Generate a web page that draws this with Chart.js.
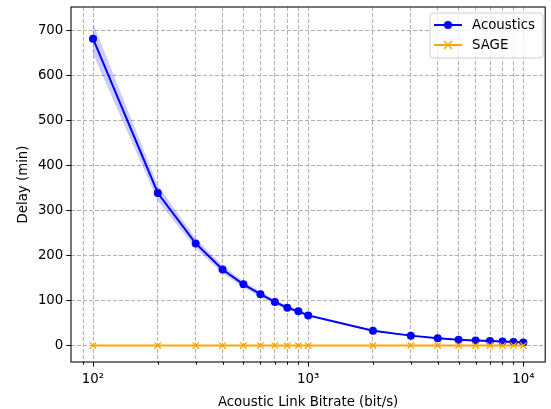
<!DOCTYPE html>
<html>
<head>
<meta charset="utf-8">
<script src="https://cdn.jsdelivr.net/npm/chart.js@4/dist/chart.umd.min.js"></script>
<style>
html,body{margin:0;padding:0;background:#fff;}
#wrap{width:551px;height:409px;}
</style>
</head>
<body>
<div id="wrap"><canvas id="c" width="551" height="409"></canvas></div>
<script>
const bitrates = [100, 200, 300, 400, 500, 600, 700, 800, 900, 1000, 2000, 3000, 4000, 5000, 6000, 7000, 8000, 9000, 10000];
const acoustics = [683, 340, 228, 170, 137, 115, 98, 85, 77, 68, 34, 23, 17, 14, 12, 11, 10, 9, 8];
const acousticsUpper = [717, 357, 239, 179, 144, 121, 103, 89, 81, 71, 36, 24, 18, 15, 13, 12, 11, 9.5, 8.5];
const acousticsLower = [649, 323, 217, 161, 130, 109, 93, 81, 73, 65, 32, 22, 16, 13, 11, 10, 9, 8.5, 7.5];
const sage = [1, 1, 1, 1, 1, 1, 1, 1, 1, 1, 1, 1, 1, 1, 1, 1, 1, 1, 1];
const seriesLabels = ['Acoustics', 'SAGE'];
const xTickValues = [90, 100, 200, 300, 400, 500, 600, 700, 800, 900, 1000, 2000, 3000, 4000, 5000, 6000, 7000, 8000, 9000, 10000];
const xMajorTicks = [100, 1000, 10000];
const xMajorLabels = ['10\u00B2', '10\u00B3', '10\u2074'];
const yTickValues = [0, 100, 200, 300, 400, 500, 600, 700];
const xTitle = 'Acoustic Link Bitrate (bit/s)';
const yTitle = 'Delay (min)';

const FONT = 'DejaVu Sans';
const FS = 13.33;
const GRID = '#b0b0b0';

const pts = arr => arr.map((v, i) => ({x: bitrates[i], y: v}));

const framePlugin = {
  id: 'frame',
  afterDraw(chart) {
    const {ctx, chartArea: a} = chart;
    const xs = chart.scales.x;
    ctx.save();
    ctx.strokeStyle = '#000';
    ctx.lineWidth = 1;
    xTickValues.forEach(v => {
      const px = Math.round(xs.getPixelForValue(v)) + 0.5;
      const len = xMajorTicks.includes(v) ? 4.67 : 2.67;
      ctx.beginPath();
      ctx.moveTo(px, a.bottom);
      ctx.lineTo(px, a.bottom + len);
      ctx.stroke();
    });
    ctx.lineWidth = 1.07;
    ctx.strokeStyle = '#000';
    ctx.strokeRect(a.left, a.top, a.right - a.left, a.bottom - a.top);
    const bx = 430, by = 13, bw = 113, bh = 45, r = 3;
    ctx.beginPath();
    ctx.moveTo(bx + r, by);
    ctx.lineTo(bx + bw - r, by); ctx.quadraticCurveTo(bx + bw, by, bx + bw, by + r);
    ctx.lineTo(bx + bw, by + bh - r); ctx.quadraticCurveTo(bx + bw, by + bh, bx + bw - r, by + bh);
    ctx.lineTo(bx + r, by + bh); ctx.quadraticCurveTo(bx, by + bh, bx, by + bh - r);
    ctx.lineTo(bx, by + r); ctx.quadraticCurveTo(bx, by, bx + r, by);
    ctx.closePath();
    ctx.fillStyle = 'rgba(255,255,255,0.8)';
    ctx.fill();
    ctx.strokeStyle = '#d0d0d0';
    ctx.lineWidth = 1;
    ctx.stroke();
    const rows = [
      {label: seriesLabels[0], color: 'blue', marker: 'circle', y: 25},
      {label: seriesLabels[1], color: 'orange', marker: 'x', y: 45}
    ];
    rows.forEach(rw => {
      ctx.strokeStyle = rw.color;
      ctx.lineWidth = 2;
      ctx.beginPath();
      ctx.moveTo(434, rw.y); ctx.lineTo(462, rw.y);
      ctx.stroke();
      if (rw.marker === 'circle') {
        ctx.fillStyle = rw.color;
        ctx.beginPath(); ctx.arc(448, rw.y, 4, 0, Math.PI * 2); ctx.fill();
      } else {
        ctx.lineWidth = 1.3;
        ctx.beginPath();
        ctx.moveTo(444, rw.y - 4); ctx.lineTo(452, rw.y + 4);
        ctx.moveTo(444, rw.y + 4); ctx.lineTo(452, rw.y - 4);
        ctx.stroke();
      }
      ctx.fillStyle = '#000';
      ctx.font = FS + 'px "' + FONT + '"';
      ctx.textBaseline = 'middle';
      ctx.textAlign = 'left';
      ctx.fillText(rw.label, 472, rw.y + 0.5);
    });
    ctx.restore();
  }
};

new Chart(document.getElementById('c'), {
  type: 'line',
  data: {
    datasets: [
      {label: 'upper', data: pts(acousticsUpper), borderWidth: 0, pointRadius: 0, fill: '+1',
       backgroundColor: 'rgba(0,0,255,0.2)', borderColor: 'rgba(0,0,0,0)', order: 3},
      {label: 'lower', data: pts(acousticsLower), borderWidth: 0, pointRadius: 0, fill: false,
       borderColor: 'rgba(0,0,0,0)', order: 3},
      {label: seriesLabels[0], data: pts(acoustics), borderColor: 'blue', backgroundColor: 'blue',
       borderWidth: 2, pointRadius: 4, pointStyle: 'circle', pointBorderWidth: 0, fill: false, order: 1},
      {label: seriesLabels[1], data: pts(sage), borderColor: 'orange', backgroundColor: 'orange',
       borderWidth: 2, pointRadius: 4.5, pointStyle: 'crossRot', pointBorderWidth: 1.3, fill: false, order: 0}
    ]
  },
  options: {
    responsive: false,
    animation: false,
    events: [],
    layout: {padding: {left: 0, right: 3, top: 7, bottom: 0}},
    plugins: {legend: {display: false}, tooltip: {enabled: false}},
    scales: {
      x: {
        type: 'logarithmic',
        min: 79, max: 12636,
        afterBuildTicks(scale) { scale.ticks = xTickValues.map(v => ({value: v, major: xMajorTicks.includes(v)})); },
        afterFit(scale) { scale.height = 47; scale.paddingLeft = 0; scale.paddingRight = 0; },
        ticks: {
          autoSkip: false, maxRotation: 0, padding: 10,
          color: '#000', font: {family: FONT, size: FS},
          callback(v) { const i = xMajorTicks.indexOf(v); return i >= 0 ? xMajorLabels[i] : ''; }
        },
        grid: {color: GRID, lineWidth: 1, drawTicks: false},
        border: {display: false, dash: [4, 2]},
        title: {display: true, text: xTitle, color: '#000', font: {family: FONT, size: FS}, padding: {top: 0, bottom: -1.5}}
      },
      y: {
        min: -35.6, max: 753.3,
        afterBuildTicks(scale) { scale.ticks = yTickValues.map(v => ({value: v})); },
        afterFit(scale) { scale.width = 71; scale.paddingTop = 0; scale.paddingBottom = 0; },
        ticks: {padding: 3, color: '#000', font: {family: FONT, size: FS}},
        grid: {color: GRID, lineWidth: 1, drawTicks: true, tickLength: 4.67, tickColor: '#000', tickWidth: 1},
        border: {display: false, dash: [4, 2]},
        title: {display: true, text: yTitle, color: '#000', font: {family: FONT, size: FS}, padding: {top: 16, bottom: 0}}
      }
    }
  },
  plugins: [framePlugin]
});
</script>
</body>
</html>
